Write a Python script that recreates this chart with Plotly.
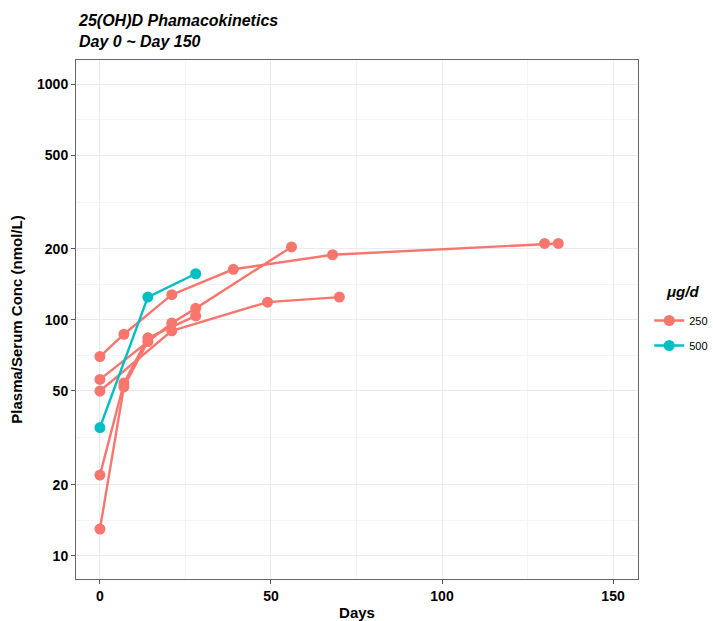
import plotly.graph_objects as go

# ---- data ----
dose_labels = ["250", "500"]
colors = {"250": "#F8766D", "500": "#00BFC4"}

s1_days = [0, 7, 21, 39, 68, 130, 134]
s1_conc = [70, 87, 128, 164, 189, 211, 211]

s2_days = [0, 21, 28, 56]
s2_conc = [56, 97, 112, 204]

s3_days = [0, 21, 49, 70]
s3_conc = [50, 90, 119, 125]

s4_days = [0, 7, 14, 28]
s4_conc = [22, 54, 84, 104]

s5_days = [0, 7, 14]
s5_conc = [13, 52, 81]

s6_days = [0, 14, 28]
s6_conc = [35, 125, 157]

series = [
    ("250", s1_days, s1_conc),
    ("250", s2_days, s2_conc),
    ("250", s3_days, s3_conc),
    ("250", s4_days, s4_conc),
    ("250", s5_days, s5_conc),
    ("500", s6_days, s6_conc),
]

y_ticks = [10, 20, 50, 100, 200, 500, 1000]
y_minor = [14.142, 31.623, 70.711, 141.42, 316.23, 707.11]
x_ticks = [0, 50, 100, 150]
x_minor = [25, 75, 125]

FONT = "Liberation Sans, Arial, sans-serif"

fig = go.Figure()
shown = set()
for dose, d, c in series:
    fig.add_trace(go.Scatter(
        x=d, y=c, mode="lines+markers", name=dose,
        legendgroup=dose, showlegend=dose not in shown,
        line=dict(color=colors[dose], width=2.4),
        marker=dict(color=colors[dose], size=11),
    ))
    shown.add(dose)

grid_major = "#EBEBEB"
grid_minor = "#F4F4F4"

fig.add_annotation(
    text="<b><i>25(OH)D Phamacokinetics<br>Day 0 ~ Day 150</i></b>",
    xref="paper", yref="paper", x=0, y=1 + 50 / 519,
    xanchor="left", yanchor="top", align="left", showarrow=False,
    font=dict(family=FONT, size=16, color="black"),
)
fig.add_annotation(
    text="<b><i>μg/d</i></b>",
    xref="paper", yref="paper", x=(664 - 76) / 562, y=1 - (291 - 60) / 519,
    xanchor="left", yanchor="middle", showarrow=False,
    font=dict(family=FONT, size=15, color="black"),
)

fig.update_layout(
    width=713, height=621,
    margin=dict(l=76, r=75, t=60, b=42, autoexpand=False),
    paper_bgcolor="white", plot_bgcolor="white",
    font=dict(family=FONT, color="black"),
    legend=dict(
        x=1.02, xanchor="left", y=1 - (306 - 60) / 519, yanchor="top",
        font=dict(family=FONT, size=11, color="black"),
        tracegroupgap=6, itemwidth=30,
        bgcolor="rgba(0,0,0,0)",
    ),
    xaxis=dict(
        range=[-7.0, 157.3],
        tickvals=x_ticks, ticktext=[str(v) for v in x_ticks],
        tickfont=dict(family=FONT, size=14, weight="bold", color="black"),
        ticks="outside", ticklen=4, tickcolor="#555", tickwidth=1,
        showgrid=True, gridcolor=grid_major, gridwidth=1,
        minor=dict(tickvals=x_minor, showgrid=True, gridcolor=grid_minor, gridwidth=1, ticklen=0),
        zeroline=False,
        showline=True, linecolor="#666", linewidth=1, mirror=True,
        title=dict(text="Days", font=dict(family=FONT, size=15, weight="bold"), standoff=4),
    ),
    yaxis=dict(
        type="log",
        range=[0.902, 3.102],
        tickvals=y_ticks, ticktext=[str(v) for v in y_ticks],
        tickfont=dict(family=FONT, size=14, weight="bold", color="black"),
        ticks="outside", ticklen=4, tickcolor="#555", tickwidth=1,
        showgrid=True, gridcolor=grid_major, gridwidth=1,
        minor=dict(tickvals=y_minor, showgrid=True, gridcolor=grid_minor, gridwidth=1, ticklen=0),
        zeroline=False,
        showline=True, linecolor="#666", linewidth=1, mirror=True,
        title=dict(text="Plasma/Serum Conc (nmol/L)", font=dict(family=FONT, size=15, weight="bold"), standoff=10),
    ),
)

fig.write_html("out.html")
